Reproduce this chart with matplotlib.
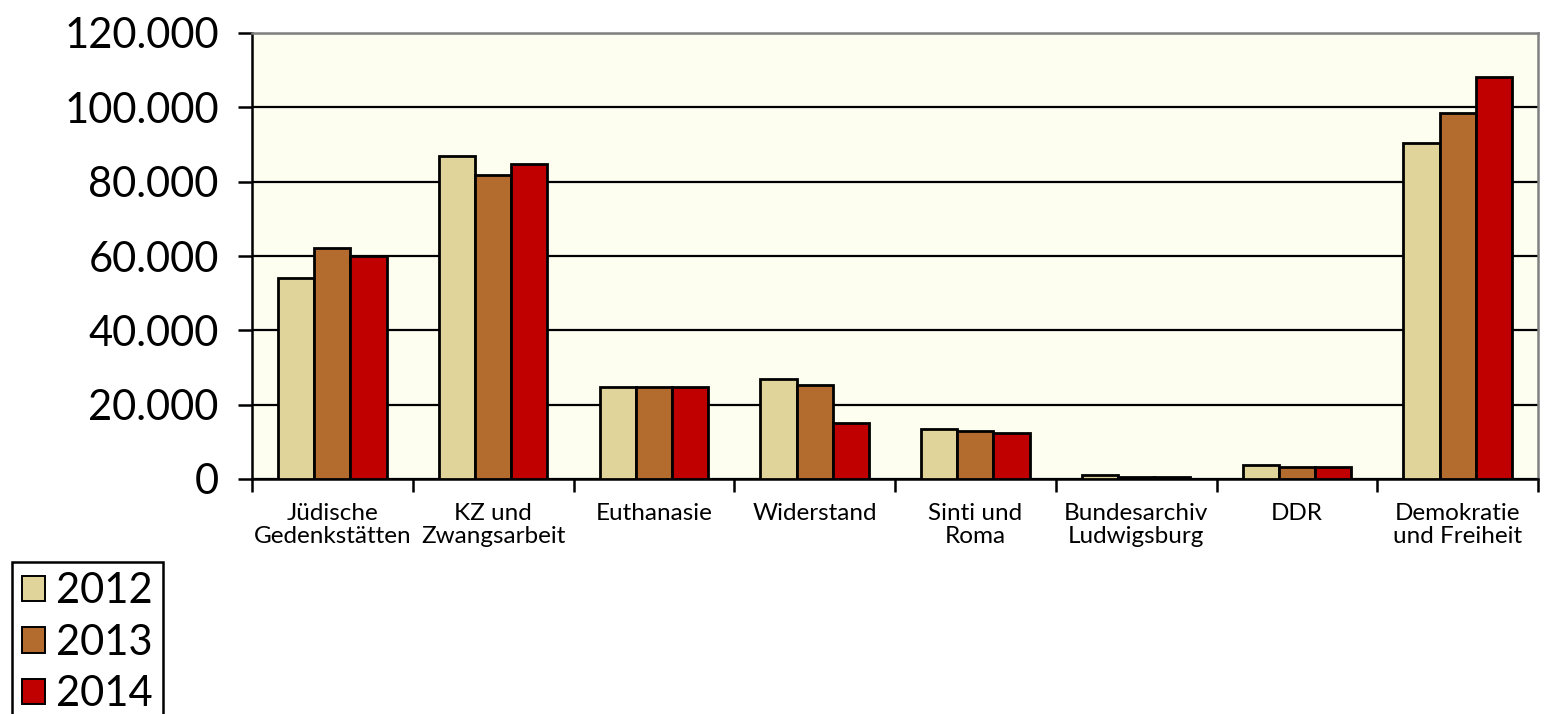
"""Visitors per memorial category, 2012-2014, as grouped bars."""

import matplotlib
matplotlib.use("Agg")
import matplotlib.pyplot as plt
import numpy as np
from matplotlib.ticker import FuncFormatter

CATEGORIES = [
    "Jüdische\nGedenkstätten",
    "KZ und\nZwangsarbeit",
    "Euthanasie",
    "Widerstand",
    "Sinti und\nRoma",
    "Bundesarchiv\nLudwigsburg",
    "DDR",
    "Demokratie\nund Freiheit",
]
YEARS = ["2012", "2013", "2014"]
VALUES_2012 = [54000, 86900, 24800, 26950, 13400, 1080, 3780, 90300]
VALUES_2013 = [62100, 81700, 24800, 25400, 12950, 500, 3240, 98400]
VALUES_2014 = [60000, 84700, 24800, 15100, 12400, 500, 3240, 108100]
COLORS = ["#E0D49A", "#B46B2E", "#C00000"]

FONT = ["Lato", "DejaVu Sans"]


def thousands(value, _pos):
    return f"{int(value):,}".replace(",", ".")


def main() -> None:
    plt.rcParams["font.family"] = FONT
    fig = plt.figure(figsize=(15.51, 7.14), dpi=100)
    ax = fig.add_axes([252 / 1551, 1 - 479 / 714, (1538 - 252) / 1551, (479 - 33) / 714])
    ax.set_facecolor("#FEFEF0")

    x = np.arange(len(CATEGORIES))
    width = 0.225
    series = [VALUES_2012, VALUES_2013, VALUES_2014]
    for i, (label, vals, color) in enumerate(zip(YEARS, series, COLORS)):
        ax.bar(x + (i - 1) * width, vals, width=width, color=color, edgecolor="black",
               linewidth=2.0, label=label, zorder=3)

    ax.set_xlim(-0.5, len(CATEGORIES) - 0.5)
    ax.set_ylim(0, 120000)
    ax.set_yticks(np.arange(0, 120001, 20000))
    ax.yaxis.set_major_formatter(FuncFormatter(thousands))
    ax.grid(axis="y", color="black", linewidth=1.6, zorder=1)

    ax.set_xticks(x)
    ax.set_xticklabels(CATEGORIES, fontsize=17.5, linespacing=1.15)
    ax.set_xticks(np.arange(-0.5, len(CATEGORIES), 1), minor=True)
    ax.tick_params(axis="x", which="major", length=0, pad=17)
    ax.tick_params(axis="x", which="minor", length=9, width=1.8, direction="out")
    ax.tick_params(axis="y", length=10, width=1.8, direction="out", labelsize=30, pad=14)

    for side in ("left", "bottom"):
        ax.spines[side].set_color("black")
        ax.spines[side].set_linewidth(1.8)
    for side in ("top", "right"):
        ax.spines[side].set_color("#808080")
        ax.spines[side].set_linewidth(1.8)

    leg = fig.legend(loc="upper left", bbox_to_anchor=(12 / 1551, 1 - 562 / 714),
                     fontsize=30, frameon=True, fancybox=False, framealpha=1,
                     borderpad=0.25, handlelength=0.55, handleheight=0.55,
                     handletextpad=0.25, labelspacing=0.32, borderaxespad=0)
    leg.get_frame().set_edgecolor("black")
    leg.get_frame().set_linewidth(1.8)
    for handle in leg.legend_handles:
        handle.set_linewidth(1.4)

    fig.savefig("out.png", dpi=100)
    plt.close(fig)


if __name__ == "__main__":
    main()
